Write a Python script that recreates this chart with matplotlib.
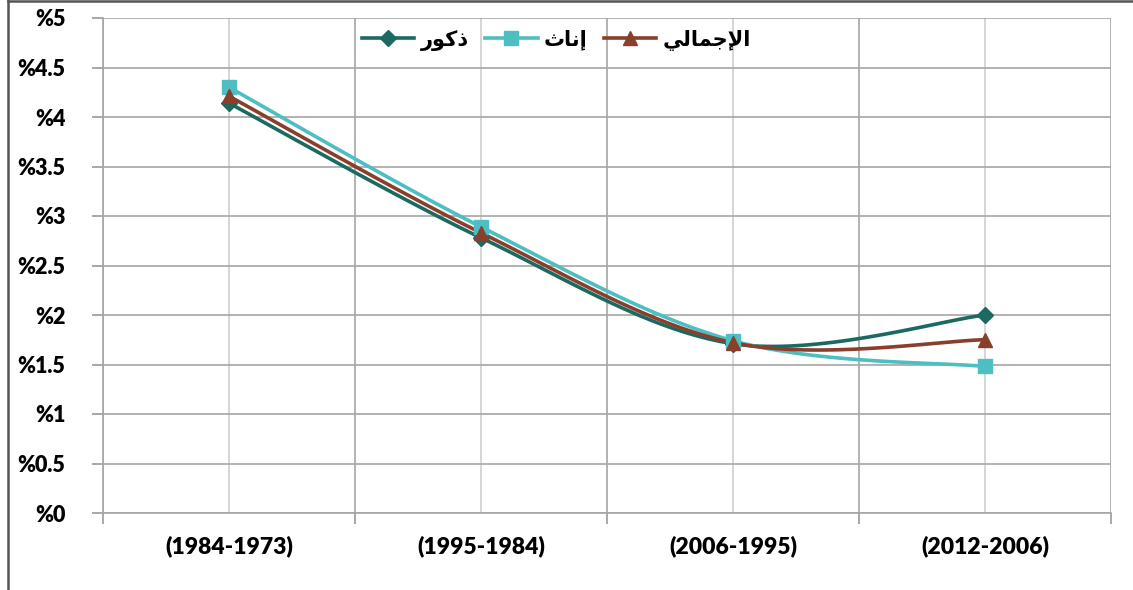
import numpy as np
import matplotlib
matplotlib.use("Agg")
import matplotlib.pyplot as plt
from matplotlib.lines import Line2D

plt.rcParams['font.family'] = ['Lato', 'DejaVu Sans']

categories = ["(1984-1973)", "(1995-1984)", "(2006-1995)", "(2012-2006)"]
males = [4.14, 2.78, 1.71, 2.00]
females = [4.30, 2.89, 1.74, 1.48]
total = [4.21, 2.83, 1.72, 1.75]
y_ticks = [0, 0.5, 1, 1.5, 2, 2.5, 3, 3.5, 4, 4.5, 5]
y_labels = ["%0", "%0.5", "%1", "%1.5", "%2", "%2.5", "%3", "%3.5", "%4", "%4.5", "%5"]
# Arabic labels (presentation forms, visual order): ذكور, إناث, الإجمالي
legend_labels = ["\uFEAD\uFEEE\uFEDB\uFEAB", "\uFE99\uFE8E\uFEE7\uFE87", "\uFEF2\uFEDF\uFE8E\uFEE4\uFE9F\uFEF9\uFE8D"]

colors = ["#1B6A62", "#4DBEC2", "#8A3F2C"]
markers = ["D", "s", "^"]
msizes = [8.5, 10, 10.5]


def smooth(xs, ys, n=40):
    xs = np.asarray(xs, float)
    ys = np.asarray(ys, float)
    px, py = [], []
    m = len(xs)
    for i in range(m - 1):
        p0 = (xs[max(i - 1, 0)], ys[max(i - 1, 0)])
        p1 = (xs[i], ys[i])
        p2 = (xs[i + 1], ys[i + 1])
        p3 = (xs[min(i + 2, m - 1)], ys[min(i + 2, m - 1)])
        c1 = (p1[0] + (p2[0] - p0[0]) / 6, p1[1] + (p2[1] - p0[1]) / 6)
        c2 = (p2[0] - (p3[0] - p1[0]) / 6, p2[1] - (p3[1] - p1[1]) / 6)
        t = np.linspace(0, 1, n)
        bx = (1 - t) ** 3 * p1[0] + 3 * (1 - t) ** 2 * t * c1[0] + 3 * (1 - t) * t ** 2 * c2[0] + t ** 3 * p2[0]
        by = (1 - t) ** 3 * p1[1] + 3 * (1 - t) ** 2 * t * c1[1] + 3 * (1 - t) * t ** 2 * c2[1] + t ** 3 * p2[1]
        px.extend(bx)
        py.extend(by)
    return px, py


fig = plt.figure(figsize=(11.33, 5.9), dpi=100)
ax = fig.add_axes([103 / 1133, 1 - 513 / 590, 1008 / 1133, 495 / 590])

x = np.arange(len(categories))
for ys, c, mk, ms in zip([males, females, total], colors, markers, msizes):
    sx, sy = smooth(x, ys)
    ax.plot(sx, sy, color=c, lw=2.6, solid_capstyle='round', zorder=3)
    ax.plot(x, ys, linestyle='none', marker=mk, color=c, ms=ms, zorder=4)

ax.set_xlim(-0.5, len(categories) - 0.5)
ax.set_ylim(0, 5)
ax.set_yticks(y_ticks)
ax.set_yticklabels(y_labels, fontsize=15.5, fontweight='heavy')
ax.set_xticks(np.arange(-0.5, len(categories), 1.0))
ax.set_xticklabels([])
ax.set_xticks(x, minor=True)
ax.set_xticklabels(categories, minor=True, fontsize=16.5, fontweight='heavy')
ax.tick_params(axis='x', which='minor', length=0, pad=16)
ax.tick_params(axis='x', which='major', length=8, width=1.2, color='#9a9a9a')
ax.tick_params(axis='y', length=8, width=1.2, color='#9a9a9a', pad=19)

ax.grid(axis='y', color='#a6a6a6', lw=1.2, zorder=0)
ax.grid(axis='x', which='major', color='#a6a6a6', lw=1.2, zorder=0)
ax.grid(axis='x', which='minor', color='#cfcfcf', lw=1.2, zorder=0)
for s in ['top', 'right']:
    ax.spines[s].set_visible(False)
ax.spines['left'].set_color('#a6a6a6')
ax.spines['left'].set_linewidth(1.2)
ax.spines['bottom'].set_color('#a6a6a6')
ax.spines['bottom'].set_linewidth(1.2)
ax.set_axisbelow(True)

handles = [Line2D([0], [0], color=c, lw=2.6, marker=mk, ms=ms) for c, mk, ms in zip(colors, markers, msizes)]
ax.legend(handles, legend_labels, loc='center', bbox_to_anchor=(0.45, 0.955), ncol=3,
          frameon=False, prop={'family': 'DejaVu Sans', 'size': 15, 'weight': 'bold'},
          handlelength=2.5, handletextpad=0.3, columnspacing=0.8)

fig.add_artist(Line2D([8 / 1133, 8 / 1133], [0, 1], color='#555555', lw=1.8))
fig.add_artist(Line2D([8 / 1133, 1], [1 - 1 / 590, 1 - 1 / 590], color='#555555', lw=1.8))

fig.savefig("out.png", dpi=100)
